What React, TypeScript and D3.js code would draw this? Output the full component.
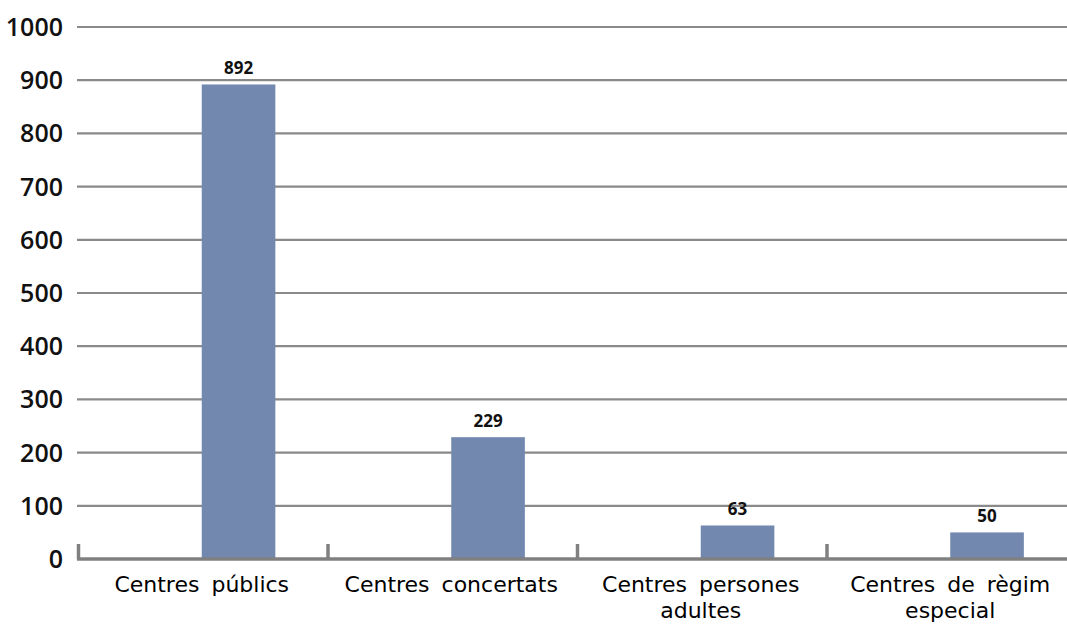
import React, { useEffect, useRef } from 'react';
import * as d3 from 'd3';

const categories = [
  'Centres públics',
  'Centres concertats',
  'Centres persones adultes',
  'Centres de règim especial',
];
const categoryLines = [
  ['Centres públics'],
  ['Centres concertats'],
  ['Centres persones', 'adultes'],
  ['Centres de règim', 'especial'],
];
const values = [892, 229, 63, 50];
const yTicks = [0, 100, 200, 300, 400, 500, 600, 700, 800, 900, 1000];

const FONT = '"Open Sans", Lato, sans-serif';
const LABEL_FONT = '"DejaVu Sans", "Open Sans", sans-serif';

export default function App() {
  const svgRef = useRef<SVGSVGElement>(null);

  useEffect(() => {
    if (!svgRef.current) return;
    const width = 1067;
    const height = 625;
    const svg = d3.select(svgRef.current);
    svg.selectAll('*').remove();
    svg.attr('width', width).attr('height', height);

    // plot area runs past the right edge (the original is cropped there)
    const left = 77;
    const bandW = 249.5;
    const x = d3.scaleBand<string>()
      .domain(categories)
      .range([left, left + bandW * categories.length])
      .padding(0);

    const y = d3.scaleLinear().domain([0, 1000]).range([559, 27]);

    // gridlines
    svg.append('g')
      .selectAll('line')
      .data(yTicks.filter(t => t > 0))
      .join('line')
      .attr('x1', left)
      .attr('x2', width)
      .attr('y1', d => y(d))
      .attr('y2', d => y(d))
      .attr('stroke', '#8a8a8a')
      .attr('stroke-width', 2.2);

    // y tick labels
    svg.append('g')
      .selectAll('text')
      .data(yTicks)
      .join('text')
      .attr('x', 63)
      .attr('y', d => y(d))
      .attr('dy', '0.36em')
      .attr('text-anchor', 'end')
      .style('font-family', FONT)
      .style('font-size', '25px')
      .style('font-weight', '600')
      .style('fill', '#111')
      .text(d => String(d));

    // bars
    const bw = x.bandwidth();
    svg.append('g')
      .selectAll('rect')
      .data(values)
      .join('rect')
      .attr('x', (d, i) => (x(categories[i]) || 0) + bw * 0.5)
      .attr('y', d => y(d))
      .attr('width', bw * 0.295)
      .attr('height', d => y(0) - y(d))
      .attr('fill', '#7288ae');

    // value labels
    svg.append('g')
      .selectAll('text')
      .data(values)
      .join('text')
      .attr('x', (d, i) => (x(categories[i]) || 0) + bw * 0.5 + bw * 0.1475)
      .attr('y', d => y(d) - 10)
      .attr('text-anchor', 'middle')
      .style('font-family', FONT)
      .style('font-size', '17px')
      .style('font-weight', '700')
      .style('fill', '#111')
      .text(d => String(d));

    // x axis line + ticks
    const axis = svg.append('g');
    axis.append('line')
      .attr('x1', left)
      .attr('x2', width)
      .attr('y1', y(0))
      .attr('y2', y(0))
      .attr('stroke', '#808080')
      .attr('stroke-width', 3.5);
    axis.selectAll('.tick')
      .data(categories)
      .join('line')
      .attr('class', 'tick')
      .attr('x1', d => (x(d) || 0) + 1.5)
      .attr('x2', d => (x(d) || 0) + 1.5)
      .attr('y1', y(0))
      .attr('y2', y(0) - 15)
      .attr('stroke', '#808080')
      .attr('stroke-width', 3.5);

    // category labels, one text per line
    const labelGroup = svg.append('g');
    categories.forEach((c, i) => {
      categoryLines[i].forEach((line, j) => {
        labelGroup.append('text')
          .attr('x', (x(c) || 0) + bw / 2)
          .attr('y', 592 + j * 26)
          .attr('text-anchor', 'middle')
          .style('font-family', LABEL_FONT)
          .style('font-size', '22px')
          .style('word-spacing', '5px')
          .style('fill', '#000')
          .text(line);
      });
    });
  }, []);

  return (
    <svg
      ref={svgRef}
      style={{ position: 'absolute', left: 0, top: 0, display: 'block', background: '#fff' }}
    />
  );
}
